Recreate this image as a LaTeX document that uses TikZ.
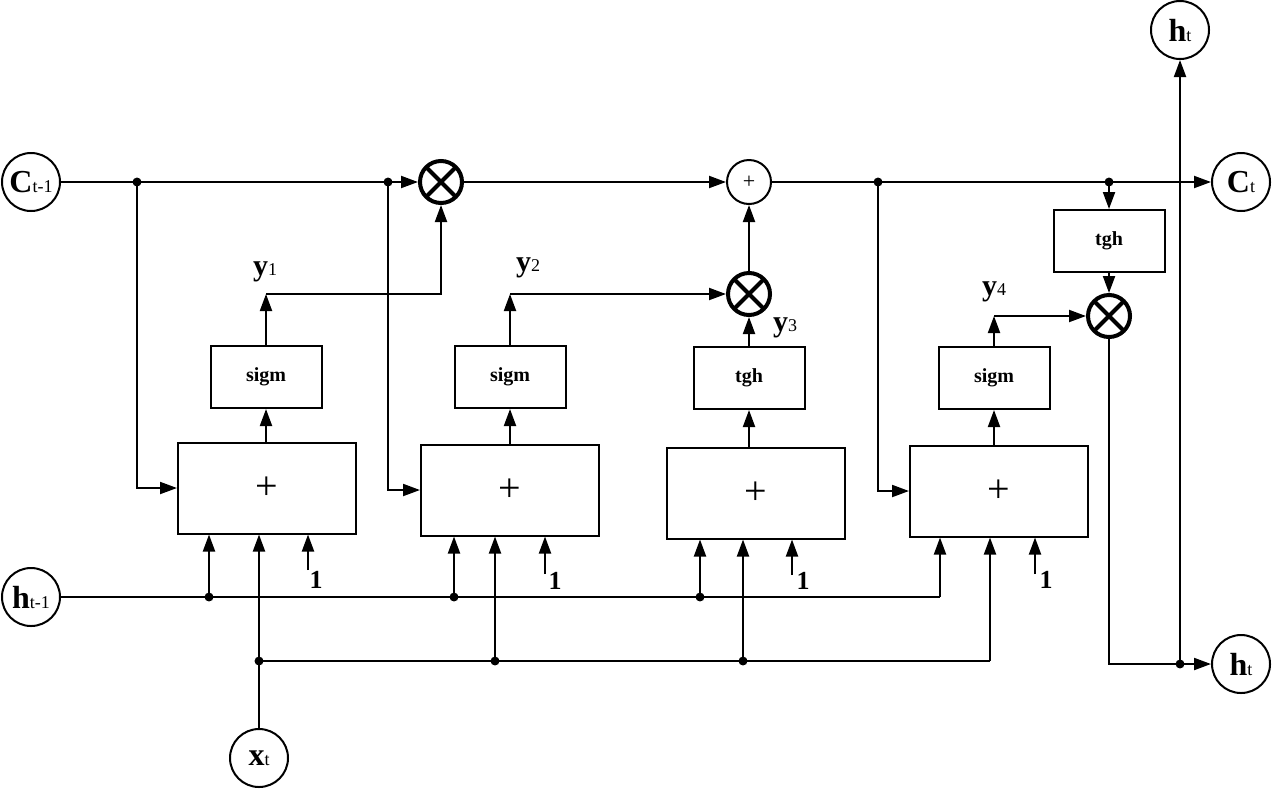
\documentclass[tikz,border=0pt]{standalone}
\usepackage{fontspec}
\setmainfont{Liberation Serif}
\usetikzlibrary{arrows.meta}

\newcommand{\sig}[2]{\textbf{#1}{\fontsize{9}{9}\selectfont #2}}

\begin{document}
\begin{tikzpicture}[x=0.5pt,y=-0.5pt,line width=1pt,
  >={Triangle[length=8.5pt,width=6pt]},
  port/.style={draw,circle,minimum size=29pt,inner sep=0pt,font=\fontsize{16}{16}\selectfont},
  mult/.style={draw,circle,line width=2pt,minimum size=21pt,inner sep=0pt,
    path picture={\draw[line width=2pt] (path picture bounding box.north west) -- (path picture bounding box.south east)
      (path picture bounding box.north east) -- (path picture bounding box.south west);}},
  addc/.style={draw,circle,minimum size=22pt,inner sep=0pt,font=\fontsize{11}{11}\selectfont},
  sumbox/.style={draw,minimum width=89pt,minimum height=45.5pt,inner sep=0pt,font=\fontsize{20}{20}\selectfont},
  funcbox/.style={draw,minimum width=55.5pt,minimum height=31pt,inner sep=0pt,font=\bfseries\fontsize{10}{10}\selectfont},
  lbl/.style={inner sep=0pt,font=\fontsize{15}{15}\selectfont},
  one/.style={inner sep=0pt,font=\bfseries\fontsize{13}{13}\selectfont}]

\useasboundingbox (0,0) rectangle (1272,788);

% inputs and outputs
\node[port] (cin) at (31,182) {\sig{C}{t-1}};
\node[port] (hin) at (31,597) {\sig{h}{t-1}};
\node[port] (xin) at (259,758) {\sig{x}{t}};
\node[port] (cout) at (1241,182) {\sig{C}{t}};
\node[port] (hup) at (1180,30) {\sig{h}{t}};
\node[port] (hout) at (1241,664) {\sig{h}{t}};

% products and sum
\node[mult] (m1) at (441,182) {};
\node[addc] (a1) at (749,182) {+};
\node[mult] (m2) at (749,294) {};
\node[mult] (m3) at (1109,316) {};

% adders
\node[sumbox] (s1) at (267,488) {+};
\node[sumbox] (s2) at (510,490) {+};
\node[sumbox] (s3) at (756,493) {+};
\node[sumbox] (s4) at (999,491) {+};

% activations
\node[funcbox] (f1) at (266,377) {sigm};
\node[funcbox] (f2) at (510,377) {sigm};
\node[funcbox] (f3) at (749,378) {tgh};
\node[funcbox] (f4) at (994,378) {sigm};
\node[funcbox] (f5) at (1109,241) {tgh};

\coordinate (c1) at (137,182);
\coordinate (c2) at (388,182);
\coordinate (c3) at (878,182);
\coordinate (c4) at (1109,182);
\coordinate (j1) at (266,294);
\coordinate (j2) at (510,294);
\coordinate (j4) at (994,316);
\coordinate (hd) at (1180,664);

\coordinate (h1) at (209,597);
\coordinate (h2) at (454,597);
\coordinate (h3) at (700,597);
\coordinate (h4) at (940,597);
\coordinate (x1) at (259,661);
\coordinate (x2) at (495,661);
\coordinate (x3) at (743,661);
\coordinate (x4) at (990,661);
\coordinate (e1) at (308,570);
\coordinate (e2) at (545,574);
\coordinate (e3) at (792,575);
\coordinate (e4) at (1035,574);

% cell state line
\draw (cin) -- (c1) -- (c2);
\draw[->] (c2) -- (m1);
\draw[->] (c1) |- (s1);
\draw[->] (c2) |- (s2);
\draw[->] (m1) -- (a1);
\draw (a1) -- (c3) -- (c4);
\draw[->] (c4) -- (cout);
\draw[->] (c3) |- (s4);
\draw[->] (c4) -- (f5);
\draw[->] (f5) -- (m3);

% gates
\foreach \i in {1,...,4}
  \draw[->] (f\i.south |- s\i.north) -- (f\i.south);
\draw[->] (f1) -- (j1);
\draw[->] (j1) -| (m1);
\draw[->] (f2) -- (j2);
\draw[->] (j2) -- (m2);
\draw[->] (f3) -- (m2);
\draw[->] (m2) -- (a1);
\draw[->] (f4) -- (j4);
\draw[->] (j4) -- (m3);
\draw[->] (m3) |- (hout);
\draw[->] (hd) -- (hup);

% h and x buses
\draw (hin) -- (h1) -- (h2) -- (h3) -- (h4);
\draw (xin) -- (x1) -- (x2) -- (x3) -- (x4);
\foreach \i in {1,...,4} {
  \draw[->] (h\i) -- (h\i |- s\i.south);
  \draw[->] (x\i) -- (x\i |- s\i.south);
  \draw[->] (e\i) -- (e\i |- s\i.south);
}

\foreach \p in {c1,c2,c3,c4,h1,h2,h3,x1,x2,x3,hd}
  \draw[fill] (\p) circle (1.7pt);

% labels
\node[lbl] (y1) at (265,272) {\sig{y}{1}};
\node[lbl] (y2) at (528,268) {\sig{y}{2}};
\node[lbl] (y3) at (785,328) {\sig{y}{3}};
\node[lbl] (y4) at (994,292) {\sig{y}{4}};
\node[one] (n1) at (316,580) {1};
\node[one] (n2) at (555,581) {1};
\node[one] (n3) at (803,581) {1};
\node[one] (n4) at (1046,580) {1};

\end{tikzpicture}
\end{document}
